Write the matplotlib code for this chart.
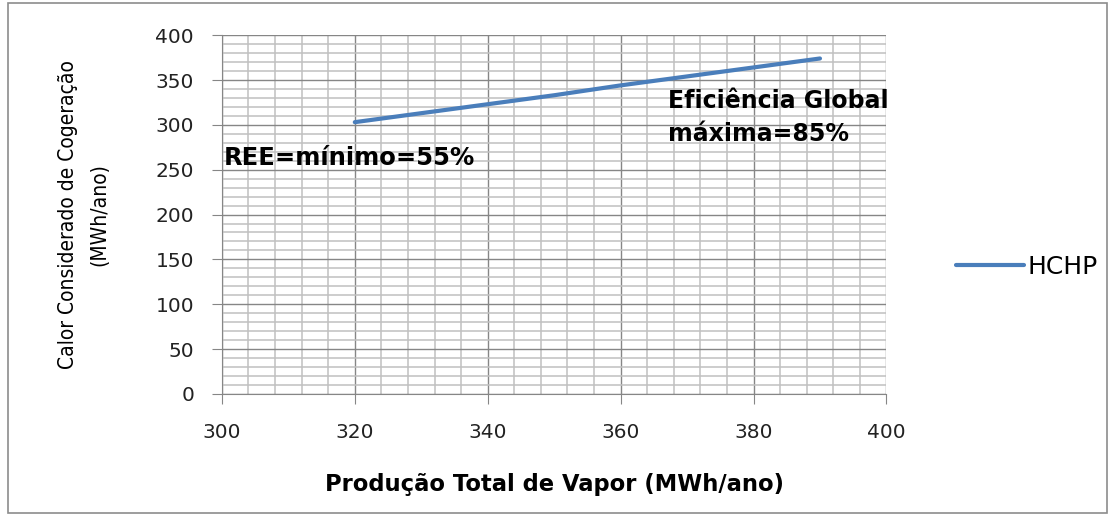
import matplotlib
matplotlib.use("Agg")
import matplotlib.pyplot as plt
from matplotlib.patches import Rectangle
from matplotlib.ticker import MultipleLocator

# HCHP versus producao total de vapor
vapor = [320, 330, 340, 350, 360, 370, 380, 390]
hchp = [303, 313, 323, 333, 344, 354, 364, 374]

x_ticks = [300, 320, 340, 360, 380, 400]
y_ticks = [0, 50, 100, 150, 200, 250, 300, 350, 400]

fig = plt.figure(figsize=(11.15, 5.17), dpi=100)
ax = fig.add_axes([0.199, 0.238, 0.596, 0.694])

# grade principal e secundaria
ax.xaxis.set_minor_locator(MultipleLocator(4))
ax.yaxis.set_minor_locator(MultipleLocator(10))
ax.grid(which="major", color="#868686", linewidth=1.0)
ax.grid(which="minor", color="#c0c0c0", linewidth=1.1)
ax.set_axisbelow(True)

ax.plot(vapor, hchp, color="#4a7ebb", linewidth=3, label="HCHP",
        solid_capstyle="round")

ax.set_xlim(300, 400)
ax.set_ylim(0, 400)
ax.set_xticks(x_ticks)
ax.set_yticks(y_ticks)
ax.tick_params(which="major", length=7, color="#868686", labelsize=14.5)
ax.tick_params(axis="x", pad=14)
ax.tick_params(axis="y", pad=13)
ax.tick_params(which="minor", length=0)
for lab in ax.get_xticklabels() + ax.get_yticklabels():
    lab.set_fontfamily("DejaVu Sans")
    lab.set_color("#222222")

for side in ["top", "right"]:
    ax.spines[side].set_visible(False)
for side in ["left", "bottom"]:
    ax.spines[side].set_color("#868686")

ax.set_xlabel("Produção Total de Vapor (MWh/ano)", fontsize=16.3,
              fontweight="bold", fontfamily="DejaVu Sans", labelpad=22)
ax.set_ylabel("Calor Considerado de Cogeração\n(MWh/ano)", fontsize=15,
              fontfamily="DejaVu Sans", fontstretch="condensed",
              labelpad=33, linespacing=1.75)

ax.text(300.3, 263, "REE=mínimo=55%", fontsize=17.5, fontweight="bold",
        fontfamily="DejaVu Sans", va="center", ha="left")
ax.text(367.2, 308, "Eficiência Global\nmáxima=85%", fontsize=17,
        fontweight="bold", fontfamily="DejaVu Sans", va="center",
        ha="left", linespacing=1.45)

leg = ax.legend(loc="center left", bbox_to_anchor=(1.104, 0.355),
                frameon=False, borderpad=0, borderaxespad=0,
                handlelength=2.75, handletextpad=0.13,
                prop={"family": "DejaVu Sans", "size": 18})

# moldura externa
fig.patches.append(Rectangle((0.007, 0.008), 0.986, 0.986,
                             transform=fig.transFigure, fill=False,
                             edgecolor="#8c8c8c", linewidth=1.2))

fig.savefig("out.png", dpi=100)
